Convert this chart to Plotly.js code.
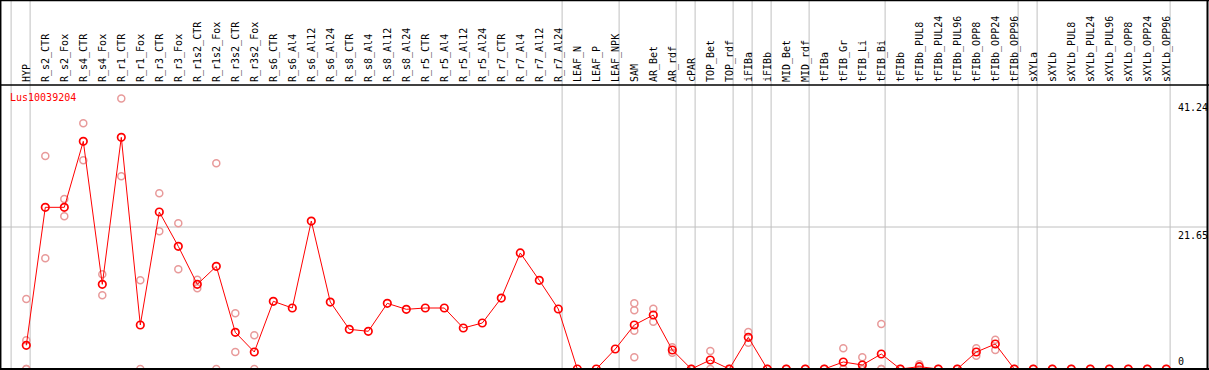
<!DOCTYPE html>
<html>
<head>
<meta charset="utf-8">
<script src="https://cdn.plot.ly/plotly-3.0.1.min.js"></script>
<style>html,body{margin:0;padding:0;background:#fff;}#chart{width:1209px;height:370px;}</style>
</head>
<body>
<div id="chart"></div>
<script>
const categories = ["HYP","R_s2_CTR","R_s2_Fox","R_s4_CTR","R_s4_Fox","R_r1_CTR","R_r1_Fox","R_r3_CTR","R_r3_Fox","R_r1s2_CTR","R_r1s2_Fox","R_r3s2_CTR","R_r3s2_Fox","R_s6_CTR","R_s6_Al4","R_s6_Al12","R_s6_Al24","R_s8_CTR","R_s8_Al4","R_s8_Al12","R_s8_Al24","R_r5_CTR","R_r5_Al4","R_r5_Al12","R_r5_Al24","R_r7_CTR","R_r7_Al4","R_r7_Al12","R_r7_Al24","LEAF_N","LEAF_P","LEAF_NPK","SAM","AR_Bet","AR_rdf","cPAR","TOP_Bet","TOP_rdf","iFIBa","iFIBb","MID_Bet","MID_rdf","tFIBa","tFIB_Gr","tFIB_Li","tFIB_Bi","tFIBb","tFIBb_PUL8","tFIBb_PUL24","tFIBb_PUL96","tFIBb_OPP8","tFIBb_OPP24","tFIBb_OPP96","sXYLa","sXYLb","sXYLb_PUL8","sXYLb_PUL24","sXYLb_PUL96","sXYLb_OPP8","sXYLb_OPP24","sXYLb_OPP96"];

const meanValues = [3.61,24.65,24.65,34.71,12.91,35.32,6.71,23.94,18.70,12.91,15.65,5.59,2.59,10.32,9.30,22.56,10.21,6.05,5.75,10.01,9.10,9.30,9.30,6.25,7.01,10.82,17.69,13.52,9.15,0,0,3.05,6.71,8.23,2.90,0,1.37,0,4.83,0,0,0,0,1.07,0.61,2.29,0,0.36,0,0,2.59,3.81,0,0,0,0,0,0,0,0,0];

const N = null;
const repA = [10.67,32.47,25.92,37.46,14.44,41.24,13.52,26.79,22.21,13.62,31.36,8.49,5.14,N,N,N,N,N,N,N,N,N,N,N,N,N,N,N,N,N,N,N,10.01,9.20,3.31,0,2.74,0,5.64,0,0,0,0,3.15,1.78,6.86,0,0.71,0,0,3.15,4.47,0,0,0,0,0,0,0,0,0];
const repB = [4.37,16.87,23.28,31.82,11.24,29.38,0,20.99,15.20,12.30,0,2.59,0,N,N,N,N,N,N,N,N,N,N,N,N,N,N,N,N,N,N,N,8.95,7.21,2.49,0,0,0,4.01,0,0,0,0,0,0,0,0,0,0,0,2.03,2.90,0,0,0,0,0,0,0,0,0];
const repC = [0,N,N,N,N,N,N,N,N,N,N,N,N,N,N,N,N,N,N,N,N,N,N,N,N,N,N,N,N,N,N,N,5.84,N,N,N,N,N,N,N,N,N,N,0,0,0,N,N,N,N,N,N,N,N,N,N,N,N,N,N,N];
const repD = [0,N,N,N,N,N,N,N,N,N,N,N,N,N,N,N,N,N,N,N,N,N,N,N,N,N,N,N,N,N,N,N,1.78,N,N,N,N,N,N,N,N,N,N,N,N,N,N,N,N,N,N,N,N,N,N,N,N,N,N,N,N];

const geneName = "Lus10039204";
const yTickValues = [0, 21.65, 41.24];
const yTickLabels = ["0", "21.65", "41.24"];
const groupEnds = [-1, 0, 28, 31, 34, 35, 37, 38, 39, 41, 45, 52, 53, 60];

// ---- layout geometry ----
const W = 1209, H = 370;
const mL = 1, mR = 2, mT = 85, mB = 1;
const plotW = W - mL - mR, plotH = H - mT - mB;
const pxPerCat = 19, firstCatPx = 26.3;
const xr0 = -(firstCatPx - mL) / pxPerCat;
const xr1 = xr0 + plotW / pxPerCat;
const yMax = 43.3;
const headerTop = 1 + (mT - 0.5) / plotH;
const FONT = "DejaVu Sans Mono";
const pxX = p => (p - mL) / plotW;

const repColor = "#e89a9a";
const mainColor = "#ff0000";

const traces = [];
[repA, repB, repC, repD].forEach(r => {
  traces.push({
    x: categories, y: r, type: "scatter", mode: "markers",
    marker: {symbol: "circle-open", size: 7, color: repColor, line: {width: 1.5, color: repColor}},
    hoverinfo: "skip", showlegend: false
  });
});
traces.push({
  x: categories, y: meanValues, type: "scatter", mode: "lines+markers",
  line: {color: mainColor, width: 1},
  marker: {symbol: "circle-open", size: 7.5, color: mainColor, line: {width: 1.7, color: mainColor}},
  showlegend: false
});

const shapes = [];
groupEnds.forEach(g => {
  shapes.push({type: "line", xref: "x", yref: "paper", x0: g + 0.2, x1: g + 0.2, y0: 0, y1: headerTop + 0.01,
    line: {color: "#c0c0c0", width: 1}, layer: "below"});
});
shapes.push({type: "line", xref: "paper", yref: "y", x0: pxX(0), x1: 1, y0: yTickValues[1], y1: yTickValues[1],
  line: {color: "#c0c0c0", width: 1}, layer: "below"});
// frame
shapes.push({type: "line", xref: "paper", yref: "paper", x0: pxX(0), x1: pxX(W), y0: headerTop, y1: headerTop, line: {color: "#000", width: 1.5}});
shapes.push({type: "line", xref: "paper", yref: "paper", x0: pxX(0), x1: pxX(W), y0: 1, y1: 1, line: {color: "#000", width: 1.5}});
shapes.push({type: "line", xref: "paper", yref: "paper", x0: pxX(0), x1: pxX(W), y0: 0, y1: 0, line: {color: "#000", width: 2}});
shapes.push({type: "line", xref: "paper", yref: "paper", x0: pxX(0.7), x1: pxX(0.7), y0: 0, y1: headerTop, line: {color: "#000", width: 1.5}});
shapes.push({type: "line", xref: "paper", yref: "paper", x0: pxX(1207.5), x1: pxX(1207.5), y0: 0, y1: headerTop, line: {color: "#000", width: 2}});

const annotations = [];
annotations.push({xref: "paper", yref: "paper", x: pxX(9), y: (H - mB - 97) / plotH, xanchor: "left", yanchor: "middle",
  text: geneName, showarrow: false, font: {family: FONT, size: 10, color: mainColor}, borderpad: 0});
yTickValues.forEach((v, i) => {
  annotations.push({xref: "paper", yref: "y", x: pxX(1176.5), y: v, xanchor: "left",
    yanchor: v === 0 ? "bottom" : "top", text: yTickLabels[i], showarrow: false,
    font: {family: FONT, size: 10, color: "#000"}, borderpad: 0, yshift: v === 0 ? 1 : -2});
});

const layout = {
  width: W, height: H,
  margin: {l: mL, r: mR, t: mT, b: mB, pad: 0},
  paper_bgcolor: "#fff", plot_bgcolor: "#fff",
  font: {family: FONT, size: 10, color: "#000"},
  showlegend: false,
  xaxis: {type: "category", side: "top", range: [xr0, xr1], tickangle: -90,
    tickfont: {family: FONT, size: 10, color: "#000"}, ticks: "", showgrid: false, zeroline: false,
    showline: false, fixedrange: true, automargin: false, ticklabelstandoff: 2},
  yaxis: {range: [0, yMax], showticklabels: false, ticks: "", showgrid: false, zeroline: false,
    showline: false, fixedrange: true},
  shapes: shapes,
  annotations: annotations
};

Plotly.newPlot("chart", traces, layout, {displayModeBar: false, staticPlot: true});
</script>
</body>
</html>
